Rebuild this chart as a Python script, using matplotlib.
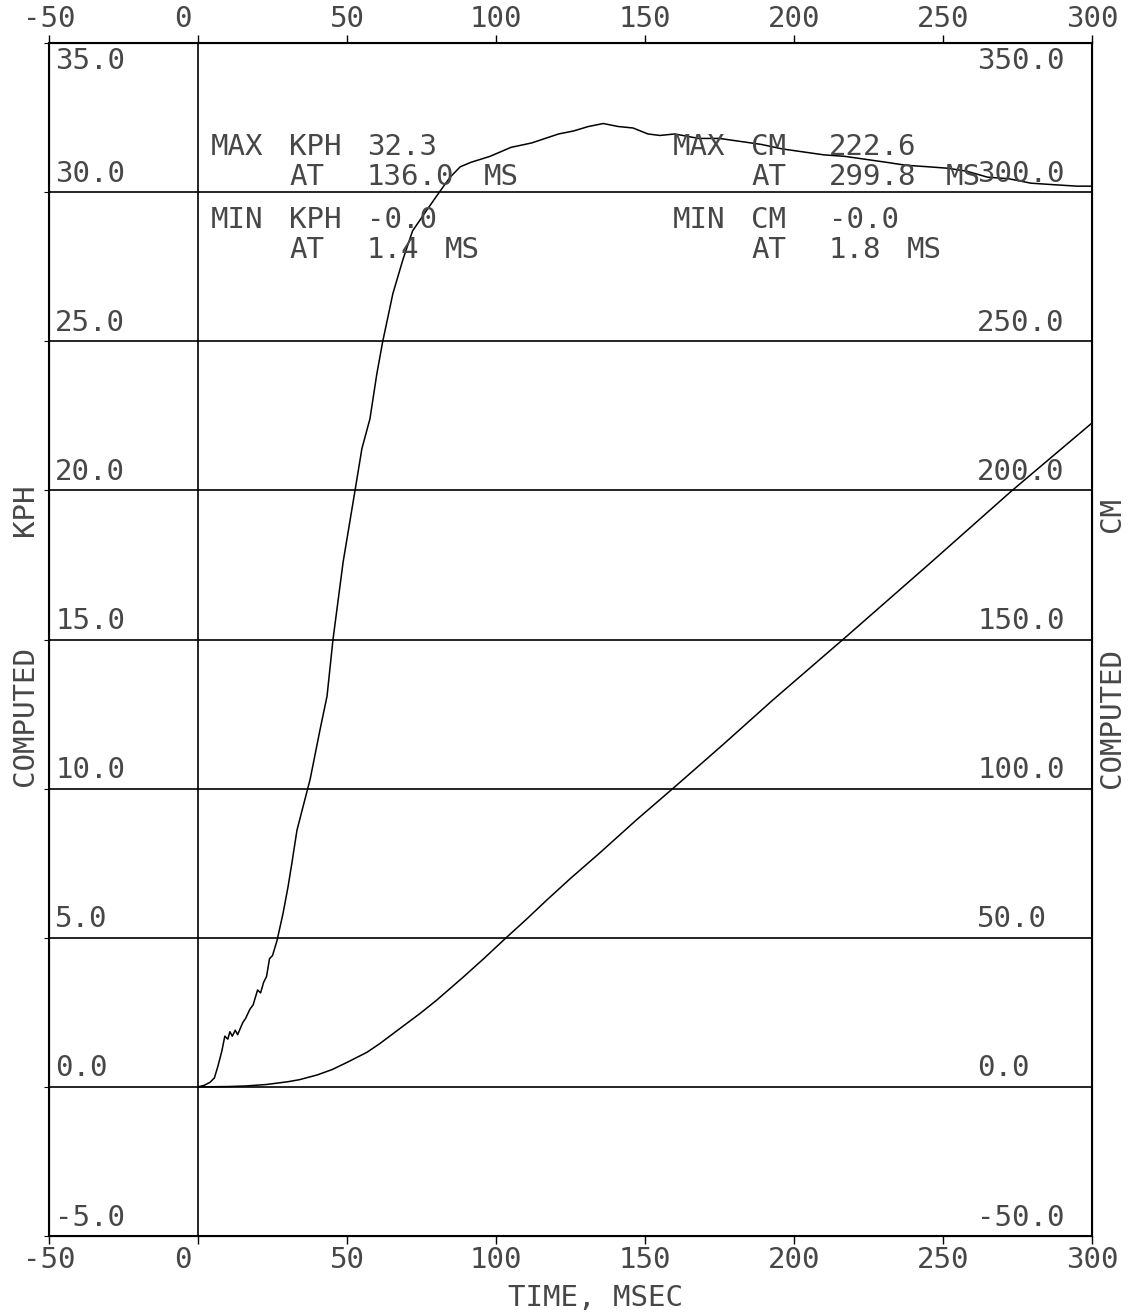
import numpy as np
import matplotlib.pyplot as plt
import matplotlib.transforms as mtransforms

# velocity trace (time in ms, speed in kph)
time_kph = [0, 2, 4, 5.5, 6.7, 8, 9, 10, 10.7, 11.5, 12.5, 13.3, 15, 16, 17.4,
            18.5, 20, 21, 22, 23, 24, 25, 26.5, 28.5, 30.2, 31.5, 33.2, 35,
            37.6, 41, 43.3, 45.3, 48.7, 52.7, 55, 57.7, 60, 62, 65.4, 68.8,
            72, 76.8, 81, 84.6, 88, 91.6, 98, 105, 112, 121, 126, 131, 136,
            141, 146, 151, 155, 160, 168, 175, 182, 189, 196, 203, 210, 217,
            224, 231, 237.6, 245, 251.7, 258, 265, 272, 279.5, 287, 295, 300]
kph = [0.0, 0.05, 0.15, 0.3, 0.7, 1.2, 1.7, 1.6, 1.85, 1.7, 1.9, 1.75, 2.15,
       2.3, 2.6, 2.75, 3.25, 3.15, 3.5, 3.7, 4.3, 4.4, 4.9, 5.8, 6.7, 7.5,
       8.6, 9.3, 10.3, 12.0, 13.1, 15.0, 17.6, 20.0, 21.4, 22.4, 23.9, 25.0,
       26.6, 27.75, 28.7, 29.4, 30.0, 30.5, 30.85, 31.0, 31.2, 31.5, 31.65,
       31.95, 32.05, 32.2, 32.3, 32.2, 32.15, 31.95, 31.9, 31.95, 31.8, 31.8,
       31.7, 31.6, 31.45, 31.35, 31.25, 31.2, 31.1, 31.0, 30.9, 30.85, 30.8,
       30.7, 30.5, 30.45, 30.3, 30.25, 30.2, 30.2]

# displacement trace (time in ms, cm)
time_cm = [0, 9.7, 16, 23, 30, 34, 40, 45, 50, 56.7, 61, 67.8, 74.5, 80, 89,
           96, 103.4, 110, 117, 125, 135, 147, 160, 176, 193, 217, 245, 273, 300]
cm = [0, 0.1, 0.3, 0.8, 1.7, 2.4, 4.0, 5.8, 8.2, 11.6, 14.5, 19.6, 24.6, 29.0,
      36.8, 43.1, 50.0, 56.0, 62.6, 69.9, 78.6, 89.4, 100.6, 114.6, 129.8,
      150.5, 175.0, 199.8, 222.6]

x_ticks = [-50, 0, 50, 100, 150, 200, 250, 300]
kph_ticks = [-5, 0, 5, 10, 15, 20, 25, 30, 35]
cm_ticks = [-50, 0, 50, 100, 150, 200, 250, 300, 350]

max_kph, max_kph_at = 32.3, 136.0
min_kph, min_kph_at = -0.0, 1.4
max_cm, max_cm_at = 222.6, 299.8
min_cm, min_cm_at = -0.0, 1.8

W, H = 1136, 1315
TXT = '#474747'
FS = 21
CW = 19.5   # column width of the plotter font, px

plt.rcParams['font.family'] = ['DejaVu Sans Mono']
plt.rcParams['axes.unicode_minus'] = False

fig = plt.figure(figsize=(W / 100, H / 100), dpi=100)
ax = fig.add_axes([49 / W, 1 - 1236 / H, (1092 - 49) / W, (1236 - 43) / H])


def put(x, y, s, **kw):
    # lay words out on a fixed column grid, like the pen plotter did
    col = 0
    for word in s.split(' '):
        if word:
            fig.text((x + col * CW) / W, 1 - y / H, word, ha='left', va='center',
                     fontsize=FS, color=TXT, **kw)
        col += len(word) + 1


ax.set_xlim(-50, 300)
ax.set_ylim(-5, 35)
ax.set_xticks(x_ticks)
ax.set_xticklabels([str(t) for t in x_ticks])
ax.tick_params(axis='x', top=True, labeltop=True, bottom=True, labelbottom=True,
               direction='out', length=6, width=1, pad=1, labelsize=FS,
               labelcolor=TXT)
# the plotter drew the "0" a little left of its tick
for tick in ax.xaxis.get_major_ticks():
    if tick.label1.get_text() == '0':
        shift = mtransforms.ScaledTranslation(-0.15, 0, fig.dpi_scale_trans)
        tick.label1.set_transform(tick.label1.get_transform() + shift)
        tick.label2.set_transform(tick.label2.get_transform() + shift)

ax.set_yticks(kph_ticks)
ax.tick_params(axis='y', left=False, labelleft=False)
ax.grid(axis='y', color='black', lw=1.2)
ax.axvline(0, color='black', lw=1.2)
for s in ax.spines.values():
    s.set_linewidth(1.5)

ax.plot(time_kph, kph, color='black', lw=1.1)

ax2 = ax.twinx()
ax2.set_ylim(-50, 350)
ax2.set_yticks([])
ax2.plot(time_cm, cm, color='black', lw=1.1)

left_tr = mtransforms.blended_transform_factory(ax.transAxes, ax.transData)
for v in kph_ticks:
    if v == 35:
        ax.text(0.006, v - 0.15, f"{v:.1f}", transform=left_tr, va='top',
                ha='left', fontsize=FS, color=TXT)
    else:
        ax.text(0.006, v + 0.15, f"{v:.1f}", transform=left_tr, va='bottom',
                ha='left', fontsize=FS, color=TXT)

right_tr = mtransforms.blended_transform_factory(ax2.transAxes, ax2.transData)
for c in cm_ticks:
    if c == 350:
        ax2.text(0.89, c - 1.5, f"{c:.1f}", transform=right_tr, va='top',
                 ha='left', fontsize=FS, color=TXT)
    else:
        ax2.text(0.89, c + 1.5, f"{c:.1f}", transform=right_tr, va='bottom',
                 ha='left', fontsize=FS, color=TXT)

# max / min summary block
put(211, 147, f"MAX KPH {max_kph:.1f}")
put(289, 177, f"AT  {max_kph_at:.1f} MS")
put(211, 220, f"MIN KPH {min_kph:.1f}")
put(289, 250, f"AT  {min_kph_at:.1f} MS")
put(673, 147, f"MAX CM  {max_cm:.1f}")
put(751, 177, f"AT  {max_cm_at:.1f} MS")
put(673, 220, f"MIN CM  {min_cm:.1f}")
put(751, 250, f"AT  {min_cm_at:.1f} MS")

# axis titles
fig.text(25 / W, 1 - 716 / H, "COMPUTED", rotation=90, ha='center', va='center',
         fontsize=FS, color=TXT)
fig.text(25 / W, 1 - 510 / H, "KPH", rotation=90, ha='center', va='center',
         fontsize=FS, color=TXT)
fig.text(1112 / W, 1 - 718 / H, "COMPUTED", rotation=90, ha='center', va='center',
         fontsize=FS, color=TXT)
fig.text(1112 / W, 1 - 515 / H, "CM", rotation=90, ha='center', va='center',
         fontsize=FS, color=TXT)
fig.text(596 / W, 1 - 1298 / H, "TIME, MSEC", ha='center', va='center',
         fontsize=FS, color=TXT)

fig.savefig('out.png', dpi=100, facecolor='white')
